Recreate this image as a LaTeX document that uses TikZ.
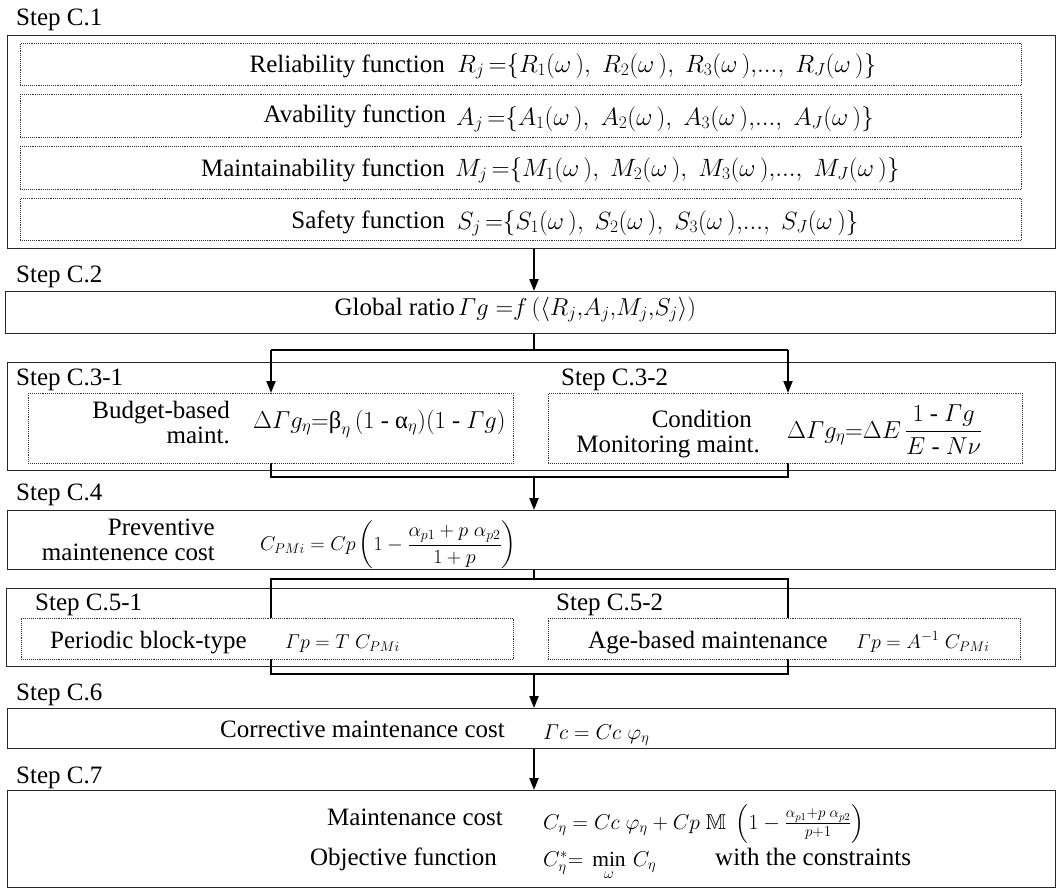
\RequirePackage{fix-cm}
\documentclass[tikz,border=0pt]{standalone}
\usepackage{amsmath,amssymb}
\usepackage{fontspec}
\setmainfont{Liberation Serif}
\usetikzlibrary{arrows.meta}
\tikzset{
  outer/.style={draw=black!85, line width=1.3pt, inner sep=0pt, anchor=north west},
  inner/.style={draw=black!80, densely dotted, line width=0.9pt, fill=white, inner sep=0pt, anchor=north west},
  conn/.style={draw=black, line width=2pt},
  arr/.style={conn, -{Triangle[length=12pt,width=9pt]}},
  lbl/.style={font=\fontsize{25}{27}\selectfont, inner sep=0pt},
  eqR/.style={font=\fontsize{25}{27}\selectfont, inner sep=0pt},
  eqA/.style={font=\fontsize{24.5}{26}\selectfont, inner sep=0pt},
  eqB/.style={font=\fontsize{21.5}{24}\selectfont, inner sep=0pt},
  eqC/.style={font=\fontsize{20}{22}\selectfont, inner sep=0pt},
}
\newcommand{\Gm}{\varGamma}
\newcommand{\ttb}{\text{β}}
\newcommand{\tta}{\text{α}}
\begin{document}
\begin{tikzpicture}[x=1pt,y=-1pt]
\useasboundingbox (0,0) rectangle (1057,889);
% outer boxes
\node[outer, minimum width=1048pt, minimum height=213pt] (c1) at (7,35) {};
\node[outer, minimum width=1050pt, minimum height=42pt] (c2) at (5,291) {};
\node[outer, minimum width=1048pt, minimum height=108pt] (c3) at (7,362) {};
\node[outer, minimum width=1048pt, minimum height=59pt] (c4) at (7,510) {};
\node[outer, minimum width=1049pt, minimum height=78pt] (c5) at (6,588) {};
\node[outer, minimum width=1048pt, minimum height=40pt] (c6) at (7,708) {};
\node[outer, minimum width=1048pt, minimum height=97pt] (c7) at (7,790) {};
% connectors
\coordinate (mx) at (534,0);
\coordinate (s3) at (534,350);
\coordinate (m3) at (534,477);
\coordinate (q1) at (271,579);
\coordinate (q2) at (788,674);
\draw[arr] (c1.south -| mx) -- (c2.north -| mx);
\draw[conn] (c2.south -| mx) -- (s3);
\draw[conn] (271,350) -- (788,350);
\draw[arr] (271,350) -- (271,393);
\draw[arr] (788,350) -- (788,393);
\draw[conn] (271,463) -- (271,477) -- (788,477) -- (788,463);
\draw[arr] (m3) -- (c4.north -| mx);
\draw[conn] (c4.south -| mx) -- (mx |- q1);
\draw[conn] (q1) rectangle (q2);
\draw[arr] (mx |- q2) -- (c6.north -| mx);
\draw[arr] (c6.south -| mx) -- (c7.north -| mx);
% inner dotted boxes
\node[inner, minimum width=1001pt, minimum height=42pt] (r1) at (20,43) {};
\node[inner, minimum width=1001pt, minimum height=43pt] (r2) at (20,94) {};
\node[inner, minimum width=1001pt, minimum height=43pt] (r3) at (20,146) {};
\node[inner, minimum width=1001pt, minimum height=42pt] (r4) at (20,198) {};
\node[inner, minimum width=485pt, minimum height=70pt] (d31) at (28,393) {};
\node[inner, minimum width=474pt, minimum height=70pt] (d32) at (548,393) {};
\node[inner, minimum width=492pt, minimum height=41pt] (d51) at (21,618) {};
\node[inner, minimum width=472pt, minimum height=41pt] (d52) at (548,618) {};
% step labels
\node[lbl, anchor=base west] (s1) at (16,25) {Step C.1};
\node[lbl, anchor=base west] (s2) at (16,282) {Step C.2};
\node[lbl, anchor=base west] (s31) at (16,385) {Step C.3-1};
\node[lbl, anchor=base west] (s32) at (561,385) {Step C.3-2};
\node[lbl, anchor=base west] (s4) at (16,500) {Step C.4};
\node[lbl, anchor=base west] (s51) at (35,610) {Step C.5-1};
\node[lbl, anchor=base west] (s52) at (556,610) {Step C.5-2};
\node[lbl, anchor=base west] (s6) at (16,700) {Step C.6};
\node[lbl, anchor=base west] (s7) at (16,783) {Step C.7};
% C.1 rows
\node[lbl, anchor=base east] (t1) at (445,72) {Reliability function};
\node[eqR, anchor=base west] (f1) at (457,72) {$R_j\,{=}\{R_1(\omega\,),\;R_2(\omega\,),\;R_3(\omega\,),\!...,\;R_J(\omega\,)\}$};
\node[lbl, anchor=base east] (t2) at (446,122) {Avability function};
\node[eqR, anchor=base west] (f2) at (456,125) {$A_j\,{=}\{A_1(\omega\,),\;A_2(\omega\,),\;A_3(\omega\,),\!...,\;A_J(\omega\,)\}$};
\node[lbl, anchor=base east] (t3) at (445,176) {Maintainability function};
\node[eqR, anchor=base west] (f3) at (455,176) {$M_j\,{=}\{M_1(\omega\,),\;M_2(\omega\,),\;M_3(\omega\,),\!...,\;M_J(\omega\,)\}$};
\node[lbl, anchor=base east] (t4) at (445,228) {Safety function};
\node[eqR, anchor=base west] (f4) at (457,229) {$S_j\,{=}\{S_1(\omega\,),\;S_2(\omega\,),\;S_3(\omega\,),\!...,\;S_J(\omega\,)\}$};
% C.2
\node[lbl, anchor=base east] (t5) at (455,315) {Global ratio};
\node[eqA, anchor=base west] (f5) at (458,315) {$\Gm g\;{=}f\,(\langle R_j{,}A_j{,}M_j{,}S_j\rangle)$};
% C.3
\node[lbl, anchor=base east] (t6a) at (230,418) {Budget-based};
\node[lbl, anchor=base east] (t6b) at (230,443) {maint.};
\node[eqA, anchor=base west] (f6) at (253,428) {$\Delta\Gm g_\eta{=}\ttb_\eta\,(1\text{ - }\tta_\eta)(1\text{ - }\Gm g)$};
\node[lbl, anchor=base east] (t7a) at (752,427) {Condition};
\node[lbl, anchor=base east] (t7b) at (760,452) {Monitoring maint.};
\node[eqA, anchor=base west] (f7) at (787,438) {$\Delta\Gm g_\eta{=}\Delta E\,\dfrac{1\text{ - }\Gm g}{E\text{ - }N\nu}$};
% C.4
\node[lbl, anchor=base east] (t8a) at (215,535) {Preventive};
\node[lbl, anchor=base east] (t8b) at (215,560) {maintenence cost};
\node[eqC, anchor=base west] (f8) at (260,550) {$C_{PMi} = Cp\left(1 - \dfrac{\alpha_{p1} + p\;\alpha_{p2}}{1+p}\right)$};
% C.5
\node[lbl, anchor=base west] (t9) at (50,648) {Periodic block-type};
\node[eqC, anchor=base west] (f9) at (285,648) {$\Gm p = T\;C_{PMi}$};
\node[lbl, anchor=base west] (t10) at (588,648) {Age-based maintenance};
\node[eqC, anchor=base west] (f10) at (856,648) {$\Gm p = A^{-1}\;C_{PMi}$};
% C.6
\node[lbl, anchor=base east] (t11) at (505,737) {Corrective maintenance cost};
\node[eqB, anchor=base west] (f11) at (543,739) {$\Gm c = Cc\;\varphi_\eta$};
% C.7
\node[lbl, anchor=base east] (t12) at (503,825) {Maintenance cost};
\node[eqB, anchor=base west] (f12) at (543,829) {$C_\eta = Cc\;\varphi_\eta + Cp\;\mathbb{M}\;\left(1 - \frac{\alpha_{p1}+p\;\alpha_{p2}}{p+1}\right)$};
\node[lbl, anchor=base east] (t13) at (497,865) {Objective function};
\node[eqB, anchor=base west] (f13) at (543,866) {$C^*_\eta{=}\ \min\limits_{\omega}\,C_\eta$};
\node[lbl, anchor=base west] (t14) at (715,865) {with the constraints};
\end{tikzpicture}
\end{document}
